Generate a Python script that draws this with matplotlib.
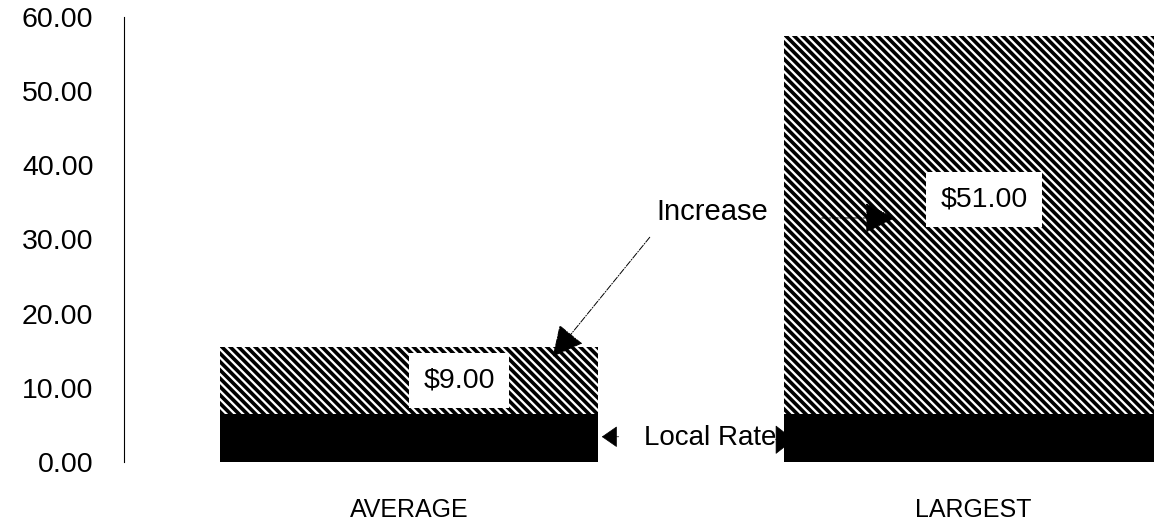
import matplotlib
matplotlib.use('Agg')
import matplotlib.pyplot as plt

categories = ['AVERAGE', 'LARGEST']
local_rate = [6.5, 6.5]
increase = [9.0, 51.0]
increase_labels = ['$9.00', '$51.00']
y_ticks = [0, 10, 20, 30, 40, 50, 60]

plt.rcParams['font.family'] = ['Liberation Sans', 'DejaVu Sans']
plt.rcParams['hatch.linewidth'] = 2.6


def main():
    fig = plt.figure(figsize=(11.54, 5.26), dpi=100)
    ax = fig.add_axes([0.1075, 0.1217, 0.8925, 0.846])

    x = list(range(len(categories)))
    ax.bar(x, local_rate, width=0.67, color='black', linewidth=0)
    ax.bar(x, increase, width=0.67, bottom=local_rate, facecolor='white',
           edgecolor='black', hatch='\\\\\\\\', linewidth=0)

    ax.set_xlim(-0.505, 1.321)
    ax.set_ylim(0, 60)
    ax.set_yticks(y_ticks)
    ax.set_yticklabels([f'{v:.2f}' for v in y_ticks], fontsize=20.5)
    ax.set_xticks(x)
    ax.set_xticklabels(categories, fontsize=18)
    ax.tick_params(axis='both', length=0)
    ax.tick_params(axis='y', pad=22)
    ax.tick_params(axis='x', pad=26)
    for side in ['top', 'right', 'bottom']:
        ax.spines[side].set_visible(False)
    ax.spines['left'].set_linewidth(0.8)

    # value boxes on the increase segments
    label_pos = [(0.089, 11.0), (1.02, 35.4)]
    for (lx, ly), txt in zip(label_pos, increase_labels):
        ax.text(lx, ly, txt, fontsize=20.5, ha='center', va='center',
                bbox=dict(boxstyle='square,pad=0.5', fc='white', ec='none'))

    # callouts
    big_head = '-|>,head_length=0.7,head_width=0.35'
    arrow = dict(arrowstyle=big_head, mutation_scale=28, lw=0.7, ls='-.',
                 color='black', shrinkA=0, shrinkB=0)
    ax.text(0.537, 33.7, 'Increase', fontsize=21, ha='center', va='center')
    ax.annotate('', xy=(0.255, 14.2), xytext=(0.427, 30.3), arrowprops=arrow)
    ax.annotate('', xy=(0.862, 32.9), xytext=(0.732, 32.9), arrowprops=arrow)

    ax.text(0.535, 3.3, 'Local Rate', fontsize=20, ha='center', va='center')
    ax.annotate('', xy=(0.342, 3.4), xytext=(0.372, 3.4),
                arrowprops=dict(arrowstyle='-|>,head_length=0.36,head_width=0.25',
                                mutation_scale=28, lw=0.5, color='black',
                                shrinkA=0, shrinkB=0))
    ax.annotate('', xy=(0.683, 3.0), xytext=(0.650, 3.0),
                arrowprops=dict(arrowstyle='-|>,head_length=0.45,head_width=0.35',
                                mutation_scale=28, lw=0.5, color='black',
                                shrinkA=0, shrinkB=0))

    fig.savefig('out.png', dpi=100)
    plt.close(fig)


if __name__ == '__main__':
    main()
